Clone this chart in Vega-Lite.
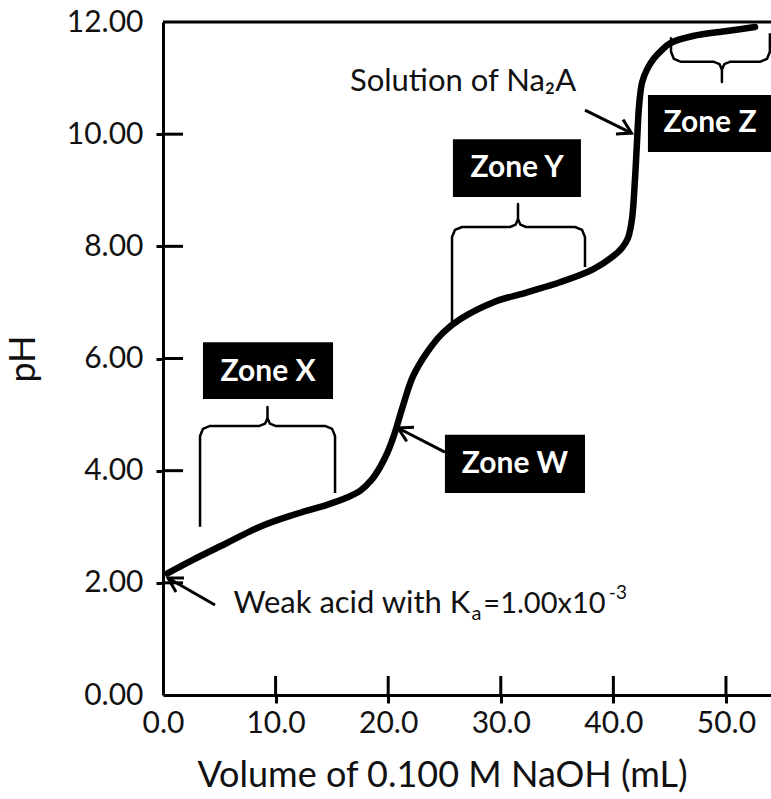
{
  "$schema": "https://vega.github.io/schema/vega-lite/v6.json",
  "width": 608,
  "height": 673,
  "autosize": {"type": "none"},
  "padding": {"left": 163, "top": 22, "right": 0, "bottom": 104},
  "background": "white",
  "config": {"view": {"stroke": null}, "font": "Lato"},
  "datasets": {
    "curve": [
      {"x": 0.4, "y": 2.17}, {"x": 2.66, "y": 2.41}, {"x": 5.68, "y": 2.71}, {"x": 8.61, "y": 3.0},
      {"x": 11.55, "y": 3.21}, {"x": 14.56, "y": 3.39}, {"x": 16.34, "y": 3.52}, {"x": 17.5, "y": 3.64},
      {"x": 18.5, "y": 3.83}, {"x": 19.3, "y": 4.07}, {"x": 19.95, "y": 4.33}, {"x": 20.5, "y": 4.62},
      {"x": 21.3, "y": 5.15}, {"x": 22.2, "y": 5.68}, {"x": 23.45, "y": 6.11}, {"x": 24.87, "y": 6.46},
      {"x": 26.38, "y": 6.7}, {"x": 29.31, "y": 7.0}, {"x": 32.33, "y": 7.18}, {"x": 35.26, "y": 7.36},
      {"x": 38.19, "y": 7.59}, {"x": 39.96, "y": 7.82}, {"x": 40.8, "y": 7.98}, {"x": 41.3, "y": 8.15},
      {"x": 41.65, "y": 8.48}, {"x": 41.92, "y": 9.2}, {"x": 42.1, "y": 9.86}, {"x": 42.28, "y": 10.5},
      {"x": 42.55, "y": 10.92}, {"x": 43.0, "y": 11.16}, {"x": 43.6, "y": 11.35}, {"x": 44.3, "y": 11.5},
      {"x": 45.03, "y": 11.62}, {"x": 47.07, "y": 11.75}, {"x": 50.09, "y": 11.84}, {"x": 52.58, "y": 11.91}
    ],
    "zones": [
      {"x": 3.55, "x2": 15.1, "y": 6.29, "y2": 5.28},
      {"x": 25.75, "x2": 37.12, "y": 9.91, "y2": 8.88},
      {"x": 25.04, "x2": 37.48, "y": 4.64, "y2": 3.6},
      {"x": 43.07, "x2": 54.5, "y": 10.7, "y2": 9.68}
    ],
    "zoneText": [
      {"x": 9.33, "y": 5.76, "label": "Zone X"},
      {"x": 31.44, "y": 9.4, "label": "Zone Y"},
      {"x": 31.26, "y": 4.12, "label": "Zone W"},
      {"x": 48.58, "y": 10.2, "label": "Zone Z"}
    ],
    "braces": [
      {"b": "X", "i": 1, "x": 3.29, "y": 3.0}, {"b": "X", "i": 2, "x": 3.29, "y": 4.619},
      {"b": "X", "i": 3, "x": 3.55, "y": 4.745}, {"b": "X", "i": 4, "x": 4.178, "y": 4.797},
      {"b": "X", "i": 5, "x": 8.57, "y": 4.797}, {"b": "X", "i": 6, "x": 9.072, "y": 4.839},
      {"b": "X", "i": 7, "x": 9.28, "y": 4.94}, {"b": "X", "i": 8, "x": 9.28, "y": 5.135},
      {"b": "X", "i": 9, "x": 9.28, "y": 4.94}, {"b": "X", "i": 10, "x": 9.488, "y": 4.839},
      {"b": "X", "i": 11, "x": 9.99, "y": 4.797}, {"b": "X", "i": 12, "x": 14.392, "y": 4.797},
      {"b": "X", "i": 13, "x": 15.02, "y": 4.745}, {"b": "X", "i": 14, "x": 15.28, "y": 4.619},
      {"b": "X", "i": 15, "x": 15.28, "y": 3.6},
      {"b": "Y", "i": 1, "x": 25.67, "y": 6.65}, {"b": "Y", "i": 2, "x": 25.67, "y": 8.167},
      {"b": "Y", "i": 3, "x": 25.93, "y": 8.293}, {"b": "Y", "i": 4, "x": 26.558, "y": 8.345},
      {"b": "Y", "i": 5, "x": 30.82, "y": 8.345}, {"b": "Y", "i": 6, "x": 31.322, "y": 8.387},
      {"b": "Y", "i": 7, "x": 31.53, "y": 8.488}, {"b": "Y", "i": 8, "x": 31.53, "y": 8.755},
      {"b": "Y", "i": 9, "x": 31.53, "y": 8.488}, {"b": "Y", "i": 10, "x": 31.738, "y": 8.387},
      {"b": "Y", "i": 11, "x": 32.24, "y": 8.345}, {"b": "Y", "i": 12, "x": 36.592, "y": 8.345},
      {"b": "Y", "i": 13, "x": 37.22, "y": 8.293}, {"b": "Y", "i": 14, "x": 37.48, "y": 8.167},
      {"b": "Y", "i": 15, "x": 37.48, "y": 7.63},
      {"b": "Z", "i": 1, "x": 45.12, "y": 11.73}, {"b": "Z", "i": 2, "x": 45.12, "y": 11.468},
      {"b": "Z", "i": 3, "x": 45.38, "y": 11.342}, {"b": "Z", "i": 4, "x": 46.008, "y": 11.29},
      {"b": "Z", "i": 5, "x": 48.93, "y": 11.29}, {"b": "Z", "i": 6, "x": 49.432, "y": 11.248},
      {"b": "Z", "i": 7, "x": 49.64, "y": 11.147}, {"b": "Z", "i": 8, "x": 49.64, "y": 10.93},
      {"b": "Z", "i": 9, "x": 49.64, "y": 11.147}, {"b": "Z", "i": 10, "x": 49.848, "y": 11.248},
      {"b": "Z", "i": 11, "x": 50.35, "y": 11.29}, {"b": "Z", "i": 12, "x": 53.012, "y": 11.29},
      {"b": "Z", "i": 13, "x": 53.64, "y": 11.342}, {"b": "Z", "i": 14, "x": 53.9, "y": 11.468},
      {"b": "Z", "i": 15, "x": 53.9, "y": 11.8}
    ],
    "arrows": [
      {"a": "A1", "i": 1, "x": 4.62, "y": 1.605}, {"a": "A1", "i": 2, "x": 0.444, "y": 2.086},
      {"a": "H1", "i": 1, "x": 1.155, "y": 1.837}, {"a": "H1", "i": 2, "x": 0.444, "y": 2.086}, {"a": "H1", "i": 3, "x": 1.865, "y": 2.086},
      {"a": "A2", "i": 1, "x": 25.04, "y": 4.33}, {"a": "A2", "i": 2, "x": 20.87, "y": 4.761},
      {"a": "H2", "i": 1, "x": 21.65, "y": 4.522}, {"a": "H2", "i": 2, "x": 20.87, "y": 4.761}, {"a": "H2", "i": 3, "x": 22.29, "y": 4.775},
      {"a": "A3", "i": 1, "x": 37.48, "y": 10.43}, {"a": "A3", "i": 2, "x": 41.61, "y": 10.02},
      {"a": "H3", "i": 1, "x": 40.86, "y": 10.259}, {"a": "H3", "i": 2, "x": 41.61, "y": 10.02}, {"a": "H3", "i": 3, "x": 40.23, "y": 10.002}
    ],
    "noteSolution": [{"x": 16.6, "y": 10.93, "label": "Solution of Na₂A"}],
    "noteK": [{"x": 27.3, "y": 1.62, "label": "Weak acid with K"}],
    "noteKsub": [{"x": 27.4, "y": 1.62, "label": "a"}],
    "noteKval": [{"x": 28.45, "y": 1.62, "label": "=1.00x10"}],
    "noteKsup": [{"x": 39.6, "y": 1.62, "label": "-3"}],
    "xticks": [
      {"x": 10, "y": 0, "y2": 0.34}, {"x": 20, "y": 0, "y2": 0.34}, {"x": 30, "y": 0, "y2": 0.34},
      {"x": 40, "y": 0, "y2": 0.34}, {"x": 50, "y": 0, "y2": 0.34}
    ],
    "yticks": [
      {"x": 0, "x2": 1.78, "y": 2}, {"x": 0, "x2": 1.78, "y": 4}, {"x": 0, "x2": 1.78, "y": 6},
      {"x": 0, "x2": 1.78, "y": 8}, {"x": 0, "x2": 1.78, "y": 10}
    ],
    "top": [{"x": 0, "x2": 54, "y": 12}]
  },
  "encoding": {
    "x": {
      "field": "x", "type": "quantitative",
      "scale": {"domain": [0, 54], "nice": false, "zero": false},
      "axis": {
        "values": [0, 10, 20, 30, 40, 50], "format": ".1f", "grid": false,
        "title": "Volume of 0.100 M NaOH (mL)", "titleFontSize": 36, "titleFontWeight": "normal",
        "titleColor": "#111", "titleX": 279, "titleAlign": "center", "titlePadding": 20,
        "labelFontSize": 30, "labelColor": "#111", "labelPadding": 5, "labelFlush": false,
        "labelOverlap": false, "labelBound": false,
        "tickSize": 8, "tickWidth": 3, "tickColor": {"condition": {"test": "datum.value == 0", "value": "transparent"}, "value": "black"},
        "domainColor": "black", "domainWidth": 3
      }
    },
    "y": {
      "field": "y", "type": "quantitative",
      "scale": {"domain": [0, 12], "nice": false, "zero": false},
      "axis": {
        "values": [0, 2, 4, 6, 8, 10, 12], "format": ".2f", "grid": false,
        "title": "pH", "titleFontSize": 36, "titleFontWeight": "normal", "titleColor": "#111", "titlePadding": 24,
        "labelFontSize": 30, "labelColor": "#111", "labelPadding": 13, "labelOverlap": false,
        "tickSize": 7, "tickWidth": 3, "tickColor": {"condition": {"test": "datum.value == 0 || datum.value == 12", "value": "transparent"}, "value": "black"},
        "domainColor": "black", "domainWidth": 3
      }
    }
  },
  "layer": [
    {"data": {"name": "top"}, "mark": {"type": "rule", "color": "black", "strokeWidth": 3}, "encoding": {"x2": {"field": "x2"}}},
    {"data": {"name": "xticks"}, "mark": {"type": "rule", "color": "black", "strokeWidth": 3}, "encoding": {"y2": {"field": "y2"}}},
    {"data": {"name": "yticks"}, "mark": {"type": "rule", "color": "black", "strokeWidth": 3}, "encoding": {"x2": {"field": "x2"}}},
    {"data": {"name": "zones"}, "mark": {"type": "rect", "color": "black"}, "encoding": {"x2": {"field": "x2"}, "y2": {"field": "y2"}}},
    {"data": {"name": "zoneText"}, "mark": {"type": "text", "color": "white", "fontSize": 30, "fontWeight": "bold", "align": "center", "baseline": "middle"}, "encoding": {"text": {"field": "label"}}},
    {"data": {"name": "braces"}, "mark": {"type": "line", "color": "black", "strokeWidth": 2.5, "strokeJoin": "round"}, "encoding": {"detail": {"field": "b"}, "order": {"field": "i"}}},
    {"data": {"name": "arrows"}, "mark": {"type": "line", "color": "black", "strokeWidth": 3, "strokeJoin": "miter", "strokeCap": "butt"}, "encoding": {"detail": {"field": "a"}, "order": {"field": "i"}}},
    {"data": {"name": "curve"}, "mark": {"type": "line", "color": "black", "strokeWidth": 6.5, "interpolate": "catmull-rom", "strokeCap": "round"}, "encoding": {}},
    {"data": {"name": "noteSolution"}, "mark": {"type": "text", "color": "#111", "fontSize": 31, "align": "left", "baseline": "middle"}, "encoding": {"text": {"field": "label"}}},
    {"data": {"name": "noteK"}, "mark": {"type": "text", "color": "#111", "fontSize": 31, "align": "right", "baseline": "middle"}, "encoding": {"text": {"field": "label"}}},
    {"data": {"name": "noteKsub"}, "mark": {"type": "text", "color": "#111", "fontSize": 20, "align": "left", "baseline": "middle", "dy": 10}, "encoding": {"text": {"field": "label"}}},
    {"data": {"name": "noteKval"}, "mark": {"type": "text", "color": "#111", "fontSize": 29, "align": "left", "baseline": "middle"}, "encoding": {"text": {"field": "label"}}},
    {"data": {"name": "noteKsup"}, "mark": {"type": "text", "color": "#111", "fontSize": 19, "align": "left", "baseline": "middle", "dy": -11}, "encoding": {"text": {"field": "label"}}}
  ]
}
